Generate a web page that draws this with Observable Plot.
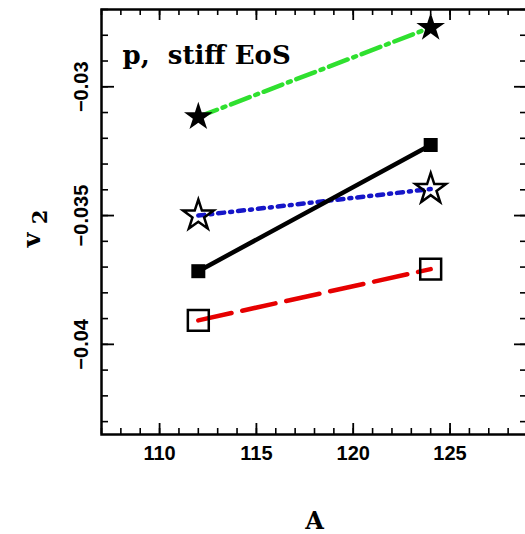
<!DOCTYPE html>
<html>
<head>
<meta charset="utf-8">
<script src="https://cdn.jsdelivr.net/npm/d3@7"></script>
<script src="https://cdn.jsdelivr.net/npm/@observablehq/plot@0.6"></script>
<style>
  html, body { margin: 0; padding: 0; background: #fff; overflow: hidden; }
  #chart { width: 525px; height: 534px; overflow: hidden; }
  #chart svg { display: block; max-width: none !important; }
</style>
</head>
<body>
<div id="chart"></div>
<script>
// Mass number A of the two systems
const massNumbers = [112, 124];

// v2 for each curve (protons, stiff EoS)
const greenStars = [-0.03117, -0.0277];   // filled stars, dash-dot green
const blackSquares = [-0.03716, -0.03226]; // filled squares, solid black
const blueStars = [-0.0350, -0.03397];     // open stars, dotted blue
const redSquares = [-0.03907, -0.03708];   // open squares, dashed red

// Axis ticks
const xMajor = [110, 115, 120, 125];
const xTickLabels = ["110", "115", "120", "125"];
const xMinor = d3.range(107, 130);
const yMajor = [-0.03, -0.035, -0.04];
const yTickLabels = ["\u22120.03", "\u22120.035", "\u22120.04"];
const yMinor = d3.range(-43, -26).map(k => k / 1000);

const xDomain = [107, 129];
const yDomain = [-0.0435, -0.027];
const yMid = (yDomain[0] + yDomain[1]) / 2;

const series = (vals) => massNumbers.map((a, i) => ({A: a, v2: vals[i]}));
const green = series(greenStars);
const black = series(blackSquares);
const blue = series(blueStars);
const red = series(redSquares);

const W = 528, H = 534;
const mL = 101, mR = 1, mT = 9, mB = 100;
const fW = W - mL - mR, fH = H - mT - mB;

const xLabelData = xMajor.map((v, i) => ({v, t: xTickLabels[i]}));
const yLabelData = yMajor.map((v, i) => ({v, t: yTickLabels[i]}));

const serif = "DejaVu Serif, serif";
const sans = "Liberation Sans, Arial, sans-serif";

const chart = Plot.plot({
  width: W,
  height: H,
  marginLeft: mL,
  marginRight: mR,
  marginTop: mT,
  marginBottom: mB,
  x: {domain: xDomain, axis: null},
  y: {domain: yDomain, axis: null},
  style: {background: "#fff"},
  marks: [
    // connecting lines
    Plot.line(green, {x: "A", y: "v2", stroke: "#2fe02f", strokeWidth: 4.5, strokeDasharray: "20,6,3,6", strokeLinecap: "round"}),
    Plot.line(blue, {x: "A", y: "v2", stroke: "#1616c8", strokeWidth: 4.5, strokeDasharray: "6,6,2,6", strokeLinecap: "round"}),
    Plot.line(red, {x: "A", y: "v2", stroke: "#e60000", strokeWidth: 4.5, strokeDasharray: "34,11"}),
    Plot.line(black, {x: "A", y: "v2", stroke: "#000", strokeWidth: 4.5}),

    // markers
    Plot.dot(green, {x: "A", y: "v2", symbol: "star", r: 9, fill: "#000", stroke: "none"}),
    Plot.dot(black, {x: "A", y: "v2", symbol: "square", r: 7.9, fill: "#000", stroke: "none"}),
    Plot.dot(blue, {x: "A", y: "v2", symbol: "star", r: 9.6, fill: "none", stroke: "#000", strokeWidth: 2.5}),
    Plot.dot(red, {x: "A", y: "v2", symbol: "square", r: 11.8, fill: "none", stroke: "#000", strokeWidth: 2.5}),

    // frame and inward ticks on all four sides
    Plot.frame({stroke: "#000", strokeWidth: 2.5}),
    Plot.tickX(xMinor, {x: d => d, insetTop: fH - 6, stroke: "#000", strokeWidth: 1.6}),
    Plot.tickX(xMajor, {x: d => d, insetTop: fH - 11, stroke: "#000", strokeWidth: 1.8}),
    Plot.tickX(xMinor, {x: d => d, insetBottom: fH - 6, stroke: "#000", strokeWidth: 1.6}),
    Plot.tickX(xMajor, {x: d => d, insetBottom: fH - 11, stroke: "#000", strokeWidth: 1.8}),
    Plot.tickY(yMinor, {y: d => d, insetRight: fW - 7, stroke: "#000", strokeWidth: 1.6}),
    Plot.tickY(yMajor, {y: d => d, insetRight: fW - 13, stroke: "#000", strokeWidth: 1.8}),
    Plot.tickY(yMinor, {y: d => d, insetLeft: fW - 7, stroke: "#000", strokeWidth: 1.6}),
    Plot.tickY(yMajor, {y: d => d, insetLeft: fW - 13, stroke: "#000", strokeWidth: 1.8}),

    // tick labels
    Plot.text(xLabelData, {x: "v", text: "t", frameAnchor: "bottom", dy: 19, lineAnchor: "middle",
      fontFamily: sans, fontSize: 20, fontWeight: "bold", fill: "#000"}),
    Plot.text(yLabelData, {y: "v", text: "t", frameAnchor: "left", dx: -20, rotate: -90, textAnchor: "middle", lineAnchor: "middle",
      fontFamily: sans, fontSize: 20, fontWeight: "bold", fill: "#000"}),

    // axis titles
    Plot.text(["A"], {frameAnchor: "bottom", dy: 94, lineAnchor: "bottom",
      fontFamily: serif, fontSize: 24, fontWeight: "bold", fill: "#000"}),
    Plot.text([{t: "v", y: yMid}], {y: "y", text: "t", frameAnchor: "left", dx: -70, dy: 18, rotate: -90, textAnchor: "middle", lineAnchor: "middle",
      fontFamily: serif, fontSize: 25, fontWeight: "bold", fill: "#000"}),
    Plot.text([{t: "2", y: yMid}], {y: "y", text: "t", frameAnchor: "left", dx: -61, dy: -5, rotate: -90, textAnchor: "middle", lineAnchor: "middle",
      fontFamily: serif, fontSize: 21, fontWeight: "bold", fill: "#000"}),

    // panel annotation
    Plot.text(["p,  stiff EoS"], {frameAnchor: "top-left", dx: 21, dy: 54, textAnchor: "start", lineAnchor: "bottom",
      fontFamily: serif, fontSize: 26, fontWeight: "bold", fill: "#000"})
  ]
});

document.getElementById("chart").appendChild(chart);
</script>
</body>
</html>
